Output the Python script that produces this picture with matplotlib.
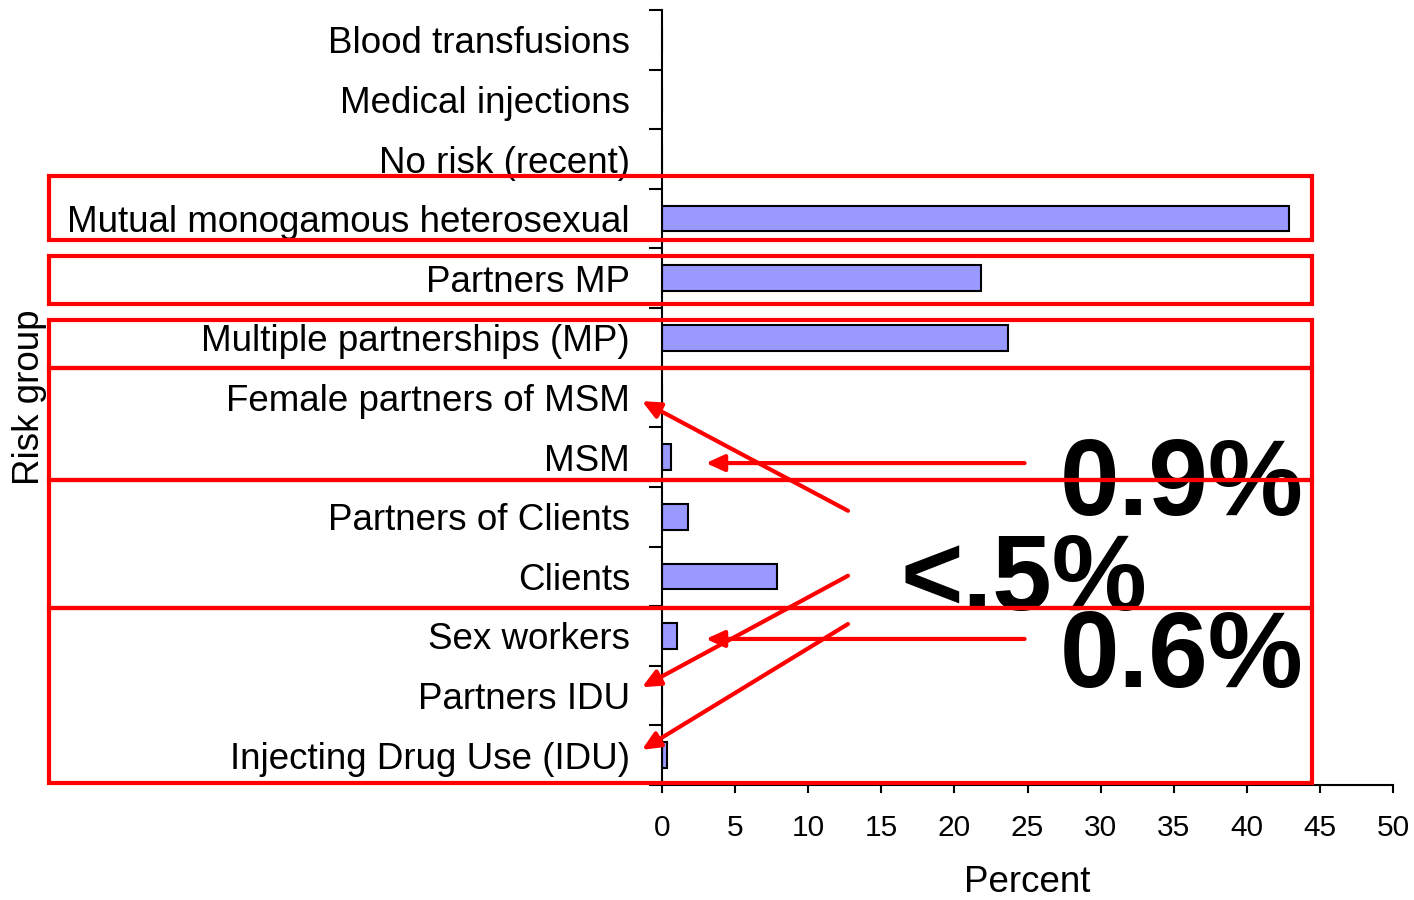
import matplotlib
matplotlib.use("Agg")
import matplotlib.pyplot as plt
from matplotlib.patches import Rectangle

plt.rcParams['font.family'] = ['Liberation Sans', 'DejaVu Sans']

# Data (bottom to top)
categories = [
    "Injecting Drug Use (IDU)", "Partners IDU", "Sex workers", "Clients",
    "Partners of Clients", "MSM", "Female partners of MSM",
    "Multiple partnerships (MP)", "Partners MP",
    "Mutual monogamous heterosexual", "No risk (recent)",
    "Medical injections", "Blood transfusions",
]
percent = [0.35, 0.0, 1.0, 7.9, 1.8, 0.6, 0.0, 23.7, 21.8, 42.9, 0.0, 0.0, 0.0]
x_ticks = [0, 5, 10, 15, 20, 25, 30, 35, 40, 45, 50]

fig = plt.figure(figsize=(14.14, 9), dpi=100)
ax = fig.add_axes([662/1414, 1-785/900, (1393-662)/1414, (785-10)/900])

ypos = list(range(len(categories)))
ax.barh(ypos, percent, height=0.43, color='#9999FF', edgecolor='black', linewidth=1.5, zorder=2)

ax.set_xlim(0, 50)
ax.set_ylim(-0.5, len(categories) - 0.5)
ax.set_xticks(x_ticks)
ax.set_xticklabels([str(t) for t in x_ticks], fontsize=21.5)
ax.set_yticks(ypos)
ax.set_yticklabels(categories, fontsize=26.5)
ax.set_yticks([i - 0.5 for i in range(len(categories) + 1)], minor=True)
ax.tick_params(axis='y', which='major', length=0, pad=23)
ax.tick_params(axis='y', which='minor', length=9.5, width=1.5, direction='out')
ax.tick_params(axis='x', which='major', length=6, width=1.5, direction='out', pad=15)

for s in ['top', 'right']:
    ax.spines[s].set_visible(False)
for s in ['left', 'bottom']:
    ax.spines[s].set_linewidth(1.5)

ax.set_xlabel("Percent", fontsize=26.5)
ax.xaxis.set_label_coords(0.5, -0.103)
ax.set_ylabel("Risk group", fontsize=26.5)
ax.yaxis.set_label_coords(-0.841, 0.5)

# Red annotation boxes (y ranges in category units)
box_x0, box_x1 = -41.9, 44.46
box_ranges = [(8.64, 9.72), (7.57, 8.38), (6.5, 7.30), (4.62, 6.5), (2.47, 4.62), (-0.47, 2.47)]
for y0, y1 in box_ranges:
    ax.add_patch(Rectangle((box_x0, y0), box_x1 - box_x0, y1 - y0, fill=False,
                           edgecolor='#FF0000', linewidth=3, clip_on=False, zorder=6))

# Big labels
big = dict(fontsize=77, fontweight='bold', color='black', ha='left', va='baseline', zorder=5)
ax.text(27.2, 4.03, "0.9%", **big)
ax.text(16.3, 2.44, "<.5%", **big)
ax.text(27.2, 1.14, "0.6%", **big)

# Arrows (tail -> head)
arrows = [
    ((24.8, 4.90), (3.0, 4.90)),
    ((24.8, 1.95), (3.0, 1.95)),
    ((12.72, 4.10), (-1.37, 5.94)),
    ((12.72, 3.01), (-1.37, 1.14)),
    ((12.72, 2.20), (-1.37, 0.09)),
]
for tail, head in arrows:
    ax.annotate("", xy=head, xytext=tail,
                arrowprops=dict(arrowstyle='-|>,head_length=0.55,head_width=0.25',
                                color='#FF0000', lw=3, shrinkA=0, shrinkB=0,
                                mutation_scale=20),
                annotation_clip=False, zorder=7)

fig.savefig("out.png", dpi=100)
